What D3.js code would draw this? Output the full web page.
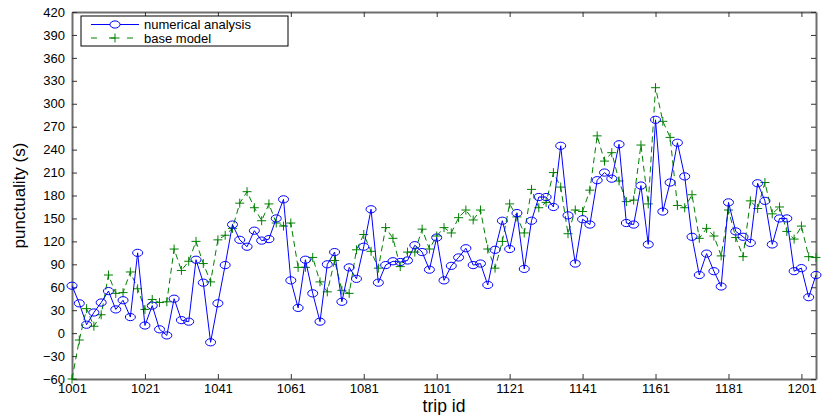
<!DOCTYPE html>
<html>
<head>
<meta charset="utf-8">
<script src="https://cdn.jsdelivr.net/npm/d3@7"></script>
<style>
  body { margin: 0; background: #fff; }
  text { font-family: "Liberation Sans", Arial, sans-serif; }
</style>
</head>
<body>
<script>
// trip ids 1001, 1003, ... 1205
var tripIds = d3.range(1001, 1206, 2);
var numerical = [62, 39, 11, 27, 40, 55, 31, 43, 21, 105,
  10, 36, 5, -3, 45, 17, 15, 96, 66, -12,
  39, 89, 142, 122, 113, 134, 121, 123, 150, 175,
  69, 33, 96, 52, 15, 90, 106, 41, 86, 71,
  113, 162, 66, 89, 94, 93, 95, 115, 106, 83,
  125, 69, 88, 99, 111, 89, 91, 63, 109, 147,
  110, 157, 84, 147, 178, 178, 165, 245, 154, 91,
  149, 142, 200, 210, 202, 247, 144, 142, 193, 116,
  279, 159, 197, 249, 205, 126, 76, 104, 81, 61,
  171, 133, 126, 118, 196, 173, 116, 150, 150, 81,
  85, 47, 76];
var baseModel = [-60, -9, 32, 9, 24, 76, 52, 53, 80, 58,
  31, 44, 40, 41, 110, 82, 94, 120, 91, 67,
  122, 128, 137, 170, 185, 164, 147, 169, 144, 140,
  144, 86, 86, 99, 67, 54, 95, 56, 52, 109,
  129, 107, 85, 138, 124, 87, 106, 106, 136, 110,
  127, 138, 131, 151, 161, 148, 161, 110, 85, 120,
  169, 152, 131, 188, 164, 171, 210, 191, 130, 161,
  159, 187, 258, 225, 236, 199, 172, 174, 246, 169,
  321, 277, 256, 167, 164, 181, 124, 137, 127, 101,
  161, 125, 100, 173, 163, 197, 156, 165, 133, 123,
  140, 100, 99];
var xTicks = d3.range(1001, 1202, 20);
var yTicks = d3.range(-60, 421, 30);
var seriesNames = ["numerical analysis", "base model"];

var W = 830, H = 415;
var mL = 72, mR = 816, mT = 12, mB = 379;

var svg = d3.select("body").append("svg")
  .attr("width", W).attr("height", H);

var x = d3.scaleLinear().domain([1001, 1205]).range([mL, mR]);
var y = d3.scaleLinear().domain([-60, 420]).range([mB, mT]);

var axisColor = "#6e6e6e";

// bottom + top axes
svg.append("g")
  .attr("transform", "translate(0," + mB + ")")
  .call(d3.axisBottom(x).tickValues(xTicks).tickFormat(d3.format("d")).tickSizeInner(-5).tickSizeOuter(0).tickPadding(5))
  .call(function(g) {
    g.select(".domain").attr("stroke", axisColor).attr("stroke-width", 2);
    g.selectAll("text").attr("font-size", 13).attr("fill", "#000");
  });
svg.append("g")
  .attr("transform", "translate(0," + mT + ")")
  .call(d3.axisTop(x).tickValues(xTicks).tickFormat("").tickSizeInner(-5).tickSizeOuter(0))
  .call(function(g) { g.select(".domain").attr("stroke", axisColor).attr("stroke-width", 2); });

// left + right axes
svg.append("g")
  .attr("transform", "translate(" + mL + ",0)")
  .call(d3.axisLeft(y).tickValues(yTicks).tickSizeInner(-5).tickSizeOuter(0).tickPadding(7))
  .call(function(g) {
    g.select(".domain").attr("stroke", axisColor).attr("stroke-width", 2);
    g.selectAll("text").attr("font-size", 13).attr("fill", "#000");
  });
svg.append("g")
  .attr("transform", "translate(" + mR + ",0)")
  .call(d3.axisRight(y).tickValues(yTicks).tickFormat("").tickSizeInner(-5).tickSizeOuter(0))
  .call(function(g) { g.select(".domain").attr("stroke", axisColor).attr("stroke-width", 2); });

svg.selectAll(".tick line").attr("stroke", "#333");

// axis titles
svg.append("text")
  .attr("x", (mL + mR) / 2).attr("y", 412)
  .attr("text-anchor", "middle").attr("font-size", 17.5)
  .text("trip id");
svg.append("text")
  .attr("transform", "translate(25," + ((mT + mB) / 2) + ") rotate(-90)")
  .attr("text-anchor", "middle").attr("font-size", 17)
  .text("punctuality (s)");

var blue = "#0000ff", green = "#008000";
var line = d3.line().x(function(d) { return x(d[0]); }).y(function(d) { return y(d[1]); });

var baseData = tripIds.map(function(t, i) { return [t, baseModel[i]]; });
var numData = tripIds.map(function(t, i) { return [t, numerical[i]]; });

// base model: dashed green with plus markers
svg.append("path").datum(baseData)
  .attr("d", line).attr("fill", "none")
  .attr("stroke", green).attr("stroke-width", 1).attr("stroke-dasharray", "6,4");
var plus = "M-4.5,0H4.5M0,-4.5V4.5";
svg.append("g").selectAll("path")
  .data(baseData).enter().append("path")
  .attr("transform", function(d) { return "translate(" + x(d[0]) + "," + y(d[1]) + ")"; })
  .attr("d", plus).attr("stroke", green).attr("stroke-width", 1);

// numerical analysis: solid blue with circle markers
svg.append("path").datum(numData)
  .attr("d", line).attr("fill", "none")
  .attr("stroke", blue).attr("stroke-width", 1);
svg.append("g").selectAll("ellipse")
  .data(numData).enter().append("ellipse")
  .attr("cx", function(d) { return x(d[0]); })
  .attr("cy", function(d) { return y(d[1]); })
  .attr("rx", 5).attr("ry", 3.6)
  .attr("fill", "none").attr("stroke", blue).attr("stroke-width", 1);

// legend
var lg = svg.append("g");
lg.append("rect").attr("x", 81).attr("y", 16).attr("width", 207).attr("height", 30)
  .attr("fill", "#fff").attr("stroke", "#000").attr("stroke-width", 1);
lg.append("line").attr("x1", 91).attr("x2", 139).attr("y1", 24.5).attr("y2", 24.5)
  .attr("stroke", blue);
lg.append("ellipse").attr("cx", 115).attr("cy", 24.5).attr("rx", 5).attr("ry", 3.6)
  .attr("fill", "#fff").attr("stroke", blue);
lg.append("line").attr("x1", 91).attr("x2", 139).attr("y1", 38).attr("y2", 38)
  .attr("stroke", green).attr("stroke-dasharray", "6,12");
lg.append("path").attr("transform", "translate(115,38)").attr("d", plus).attr("stroke", green);
lg.selectAll("text.lab").data(seriesNames).enter().append("text")
  .attr("class", "lab")
  .attr("x", 144).attr("y", function(d, i) { return 29 + i * 13.5; })
  .attr("font-size", 13).text(function(d) { return d; });
</script>
</body>
</html>
